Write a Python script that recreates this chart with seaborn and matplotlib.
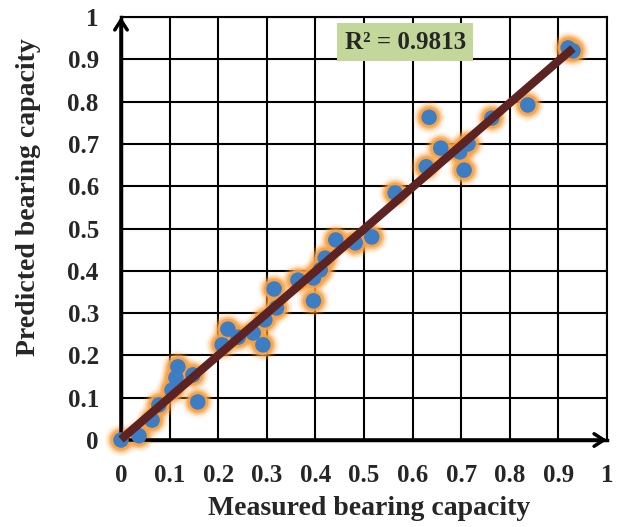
import matplotlib
matplotlib.use("Agg")
import matplotlib.pyplot as plt
import seaborn as sns
import pandas as pd

measured = [0.0, 0.037, 0.064, 0.078, 0.105, 0.113, 0.117, 0.148, 0.158, 0.208,
            0.22, 0.241, 0.272, 0.292, 0.296, 0.315, 0.32, 0.364, 0.396, 0.396,
            0.41, 0.42, 0.442, 0.482, 0.516, 0.564, 0.628, 0.634, 0.658, 0.697,
            0.706, 0.714, 0.763, 0.837, 0.92, 0.93]
predicted = [0.0, 0.01, 0.047, 0.083, 0.118, 0.147, 0.173, 0.154, 0.09, 0.225,
             0.262, 0.243, 0.253, 0.225, 0.284, 0.357, 0.312, 0.378, 0.383, 0.329,
             0.402, 0.43, 0.473, 0.466, 0.48, 0.584, 0.646, 0.763, 0.69, 0.681,
             0.638, 0.70, 0.761, 0.792, 0.927, 0.92]
ticks = [0, 0.1, 0.2, 0.3, 0.4, 0.5, 0.6, 0.7, 0.8, 0.9, 1]
tick_labels = ["0", "0.1", "0.2", "0.3", "0.4", "0.5", "0.6", "0.7", "0.8", "0.9", "1"]
r2_text = "R² = 0.9813"

df = pd.DataFrame({"Measured": measured, "Predicted": predicted})

sns.set_style("white")
plt.rcParams["font.family"] = ["Liberation Serif", "DejaVu Serif"]
plt.rcParams["font.weight"] = "bold"

fig = plt.figure(figsize=(6.33, 5.27), dpi=100)
ax = fig.add_axes([121/633, 1-440/527, (607-121)/633, (440-17)/527])

# glow layers
for s, a in [(560, 0.10), (430, 0.2), (320, 0.45), (230, 0.85)]:
    sns.scatterplot(data=df, x="Measured", y="Predicted", ax=ax, s=s,
                    color="#F8A040", alpha=a, edgecolor="none", clip_on=False,
                    zorder=3, legend=False)
sns.scatterplot(data=df, x="Measured", y="Predicted", ax=ax, s=125,
                color="#3C7DC4", edgecolor="none", clip_on=False, zorder=4,
                legend=False)
sns.regplot(data=df, x="Measured", y="Predicted", ax=ax, scatter=False, ci=None,
            line_kws=dict(color="#5C2322", lw=6, solid_capstyle="butt", zorder=5,
                          clip_on=False))

ax.set_xlim(0, 1)
ax.set_ylim(0, 1)
ax.set_xticks(ticks)
ax.set_yticks(ticks)
ax.set_xticklabels(tick_labels, fontsize=18, fontweight="bold")
ax.set_yticklabels(tick_labels, fontsize=18, fontweight="bold")
ax.tick_params(length=0)
ax.tick_params(axis="x", pad=17)
ax.tick_params(axis="y", pad=16)
ax.grid(True, color="black", lw=1.5)
ax.set_axisbelow(True)

for side in ["top", "right"]:
    ax.spines[side].set_linewidth(1.5)
    ax.spines[side].set_color("black")
for side in ["left", "bottom"]:
    ax.spines[side].set_linewidth(2.5)
    ax.spines[side].set_color("black")

ax.annotate("", xy=(0, 1.0), xytext=(0, 0), xycoords="axes fraction",
            arrowprops=dict(arrowstyle="->,head_length=0.7,head_width=0.45",
                            lw=2.5, color="black", shrinkA=0, shrinkB=0))
ax.annotate("", xy=(1.0, 0), xytext=(0, 0), xycoords="axes fraction",
            arrowprops=dict(arrowstyle="->,head_length=0.7,head_width=0.45",
                            lw=2.5, color="black", shrinkA=0, shrinkB=0))

ax.set_xlabel("Measured bearing capacity", fontsize=20, fontweight="bold")
ax.set_ylabel("Predicted bearing capacity", fontsize=20, fontweight="bold")
ax.xaxis.set_label_coords(0.51, -0.133)
ax.yaxis.set_label_coords(-0.165, 0.574)

ax.text(0.585, 0.94, r2_text, ha="center", va="center", fontsize=18,
        fontweight="bold", zorder=6,
        bbox=dict(boxstyle="square,pad=0.3", facecolor="#C4D79B", edgecolor="none"))

fig.savefig("out.png", dpi=100)
